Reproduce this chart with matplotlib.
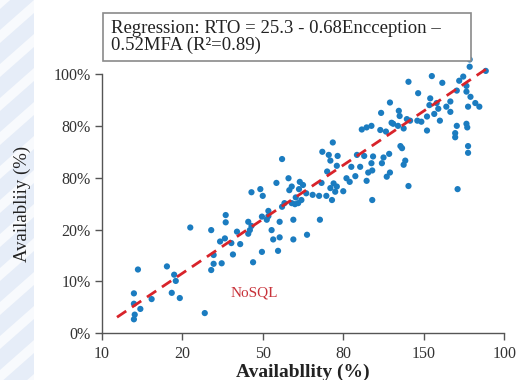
import matplotlib
matplotlib.use("Agg")
import matplotlib.pyplot as plt
from matplotlib.patches import Polygon, Rectangle

# ---- data (axis units: tick index positions) ----
x_tick_labels = ["10", "20", "50", "80", "150", "100"]
y_tick_labels = ["0%", "10%", "20%", "80%", "80%", "100%"]

pts_x = [0.45, 0.40, 0.40, 0.48, 0.41, 0.40, 0.62, 0.81, 0.90, 0.92, 0.87, 0.97, 1.28,
         1.10, 1.36, 1.54, 1.54, 1.47, 1.53, 1.61, 1.39, 1.39, 1.36, 1.49, 1.63, 1.68,
         1.72, 1.88, 1.99, 2.19, 1.82, 1.86, 2.05, 2.07, 2.21, 2.38, 2.71, 1.84, 1.82,
         2.11, 2.21, 2.13, 2.38, 2.55, 1.99, 2.07, 2.24, 2.27, 2.36, 2.40, 2.44, 2.48,
         2.41, 1.86, 1.97, 2.00, 2.17, 2.24, 2.32, 2.36, 2.33, 2.46, 2.50, 2.45, 2.54,
         2.62, 2.70, 2.79, 2.86, 2.73, 2.80, 2.84, 2.88, 2.92, 2.90, 3.00, 3.04, 3.08,
         3.15, 2.92, 3.10, 3.17, 2.84, 2.93, 2.82, 2.74, 2.87,
         3.21, 3.26, 3.29, 3.36, 3.37, 3.35, 3.36, 3.31, 3.48, 3.50, 3.57, 3.58, 3.54,
         3.75, 3.77, 3.81, 3.71, 3.73, 3.23, 3.29, 3.35, 3.46, 3.53, 3.60, 3.62, 3.68,
         3.75, 3.47, 3.58, 3.69, 3.70, 3.79, 3.83, 3.92, 3.97, 4.04, 4.04, 4.20, 3.81,
         3.93, 4.10, 4.23, 4.08, 4.07, 4.13, 4.16, 4.18, 4.28, 4.33, 4.33, 4.41, 4.44,
         4.49, 4.53, 4.53, 4.58, 4.64, 4.69, 4.55, 4.57, 4.57, 4.77, 4.41, 4.53, 4.54,
         4.39, 4.39, 4.55, 4.55, 4.42]
pts_y = [1.23, 0.77, 0.57, 0.47, 0.36, 0.27, 0.66, 1.29, 1.13, 1.01, 0.78, 0.68, 0.39,
         2.04, 1.99, 2.28, 2.14, 1.77, 1.83, 1.74, 1.51, 1.34, 1.22, 1.35, 1.52, 1.96,
         1.72, 1.37, 1.57, 1.59, 2.15, 2.07, 2.19, 2.26, 2.15, 2.19, 2.19, 1.99, 1.92,
         1.99, 1.85, 1.81, 1.81, 1.90, 2.25, 2.36, 2.44, 2.51, 2.51, 2.49, 2.51, 2.57,
         2.62, 2.72, 2.78, 2.65, 2.90, 3.36, 2.99, 2.83, 2.76, 2.92, 2.86, 2.78, 2.70,
         2.67, 2.65, 2.65, 2.57, 2.90, 3.12, 2.80, 2.89, 2.83, 2.73, 2.74, 2.99, 2.92,
         3.03, 3.23, 3.21, 3.44, 3.33, 3.42, 3.44, 3.50, 3.68,
         3.21, 3.42, 2.94, 2.57, 3.41, 3.28, 3.14, 3.10, 3.28, 3.39, 3.46, 3.10, 3.02,
         3.25, 3.33, 2.84, 3.61, 3.57, 3.93, 3.97, 4.00, 3.92, 3.89, 4.06, 4.04, 4.00,
         3.95, 4.25, 4.45, 4.29, 4.19, 4.13, 4.10, 4.10, 4.08, 4.18, 3.91, 4.10, 4.85,
         4.63, 4.96, 4.83, 4.53, 4.40, 4.23, 4.44, 4.33, 4.37, 4.47, 4.27, 4.68, 4.87,
         4.95, 4.77, 4.66, 4.56, 4.44, 4.37, 4.37, 5.28, 5.14, 5.06, 4.00, 4.04, 3.97,
         3.86, 3.78, 3.61, 3.48, 2.78]

fit_x = [0.19, 4.77]
fit_y = [0.31, 5.09]

W, H = 518, 380
fig = plt.figure(figsize=(W / 100, H / 100), dpi=100)
plt.rcParams['font.family'] = ['Liberation Serif', 'DejaVu Serif']


def fx(px):
    return px / W


def fy(py):
    return 1 - py / H


# decorative left strip in a background axes
bg = fig.add_axes([0, 0, 1, 1], zorder=-10)
bg.set_xlim(0, W)
bg.set_ylim(H, 0)
bg.axis('off')
bg.add_patch(Rectangle((0, 0), 34, H, facecolor='#e6edf8', edgecolor='none'))
for k in range(-2, 14):
    y0 = k * 34
    bg.add_patch(Polygon([(0, y0 + 30), (34, y0), (34, y0 + 13), (0, y0 + 43)],
                         closed=True, facecolor='#f8fafd', edgecolor='none'))

ax = fig.add_axes([101.7 / W, 1 - 333.3 / H, (504.3 - 101.7) / W, (333.3 - 74.0) / H])
ax.set_xlim(0, 5)
ax.set_ylim(0, 5)
ax.patch.set_alpha(0)

ax.scatter(pts_x, pts_y, s=20, color='#1b7cc0', edgecolors='none', zorder=3, clip_on=False)
ax.plot(fit_x, fit_y, linestyle=(0, (4, 2.5)), color='#d8232a', linewidth=2, zorder=4,
        clip_on=False)

for s in ['top', 'right']:
    ax.spines[s].set_visible(False)
for s in ['left', 'bottom']:
    ax.spines[s].set_color('#555555')
    ax.spines[s].set_linewidth(1.0)

ax.set_xticks(range(len(x_tick_labels)))
ax.set_xticklabels(x_tick_labels)
ax.set_yticks(range(len(y_tick_labels)))
ax.set_yticklabels(y_tick_labels)
ax.tick_params(axis='both', direction='out', length=5, width=1, color='#555555',
               labelsize=11.5, labelcolor='#333333')
ax.tick_params(axis='x', pad=4)
ax.tick_params(axis='y', pad=3)

ax.set_xlabel('Availabllity (%)', fontsize=14, fontweight='bold', color='#222222',
              labelpad=1)
ax.set_ylabel('Availabliiy (%)', fontsize=13.5, color='#222222', labelpad=16)

ax.text(1.60, 0.78, 'NoSQL', color='#c8323a', fontsize=11, ha='left', va='center')

# regression box
fig.patches.append(Rectangle((fx(102.7), fy(60.7)), fx(471) - fx(102.7), fy(13) - fy(60.7),
                             transform=fig.transFigure, facecolor='white',
                             edgecolor='#8a8a8a', linewidth=1.2, zorder=1))
fig.text(fx(111), fy(37), 'Regression: RTO = 25.3 - 0.68Encception \u2013\n0.52MFA (R\u00b2=0.89)',
         fontsize=13.5, color='#222222', ha='left', va='center', linespacing=1.0, zorder=2)

fig.savefig('out.png', dpi=100)
